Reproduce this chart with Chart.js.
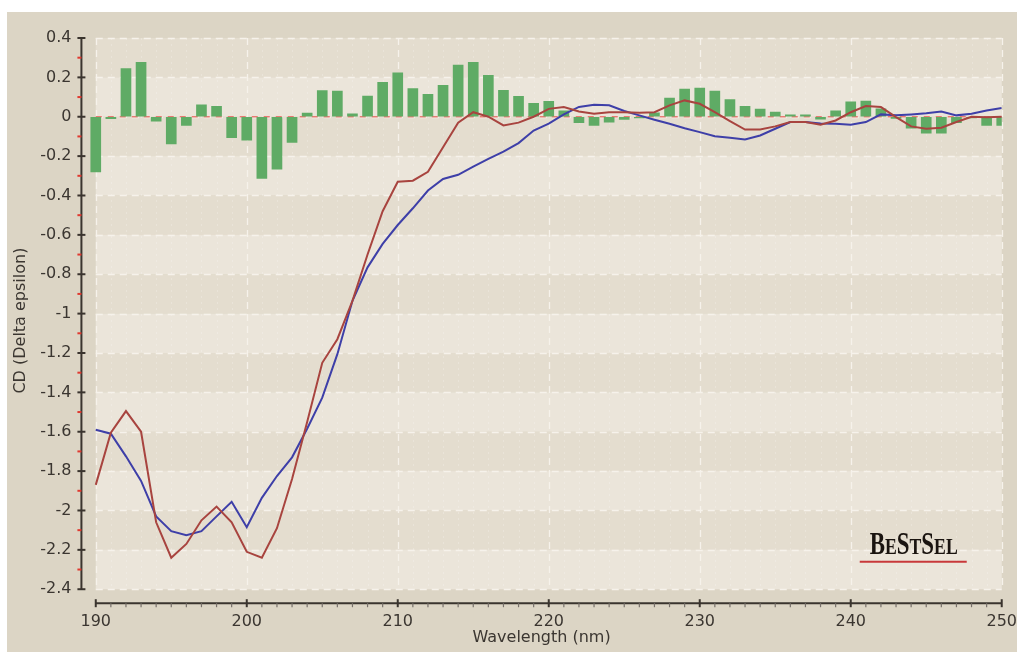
<!DOCTYPE html>
<html>
<head>
<meta charset="utf-8">
<title>CD spectrum</title>
<script src="https://cdn.jsdelivr.net/npm/chart.js@4.4.1/dist/chart.umd.min.js"></script>
<style>
  html, body { margin: 0; padding: 0; background: #ffffff; }
  #wrap { position: absolute; left: 7px; top: 12px; width: 1010px; height: 640px; background: #dcd5c5; }
</style>
</head>
<body>
<div id="wrap"><canvas id="cdChart"></canvas></div>
<script>
// wavelength (nm)
const wavelengths = [190, 191, 192, 193, 194, 195, 196, 197, 198, 199,
  200, 201, 202, 203, 204, 205, 206, 207, 208, 209,
  210, 211, 212, 213, 214, 215, 216, 217, 218, 219,
  220, 221, 222, 223, 224, 225, 226, 227, 228, 229,
  230, 231, 232, 233, 234, 235, 236, 237, 238, 239,
  240, 241, 242, 243, 244, 245, 246, 247, 248, 249, 250];

// measured spectrum (red)
const measured = [-1.87, -1.605, -1.495, -1.60, -2.06, -2.24, -2.17, -2.05, -1.98, -2.06,
  -2.21, -2.24, -2.09, -1.84, -1.55, -1.25, -1.13, -0.935, -0.70, -0.48,
  -0.33, -0.325, -0.28, -0.155, -0.03, 0.023, 0.0, -0.044, -0.03, 0.0,
  0.04, 0.049, 0.027, 0.015, 0.023, 0.023, 0.02, 0.023, 0.058, 0.083,
  0.066, 0.023, -0.022, -0.065, -0.065, -0.049, -0.027, -0.027, -0.04, -0.019,
  0.023, 0.054, 0.049, -0.002, -0.049, -0.061, -0.056, -0.027, 0.0, -0.002, 0.0];

// fitted spectrum (blue)
const fitted = [-1.59, -1.61, -1.725, -1.85, -2.03, -2.105, -2.126, -2.105, -2.03, -1.956,
  -2.085, -1.936, -1.825, -1.73, -1.585, -1.427, -1.206, -0.935, -0.765, -0.646,
  -0.55, -0.465, -0.375, -0.316, -0.295, -0.253, -0.214, -0.177, -0.134, -0.07,
  -0.035, 0.012, 0.05, 0.061, 0.058, 0.029, 0.007, -0.015, -0.036, -0.058,
  -0.078, -0.099, -0.107, -0.116, -0.095, -0.061, -0.027, -0.027, -0.034, -0.036,
  -0.041, -0.027, 0.012, 0.007, 0.012, 0.018, 0.027, 0.007, 0.015, 0.032, 0.044];

// residuals (green bars)
const residuals = [-0.28, -0.01, 0.245, 0.276, -0.022, -0.138, -0.044, 0.06, 0.053, -0.106,
  -0.119, -0.313, -0.266, -0.13, 0.019, 0.133, 0.13, 0.015, 0.105, 0.175,
  0.223, 0.143, 0.114, 0.16, 0.262, 0.277, 0.211, 0.134, 0.104, 0.068,
  0.078, 0.03, -0.03, -0.044, -0.027, -0.014, -0.006, 0.02, 0.095, 0.141,
  0.146, 0.131, 0.087, 0.053, 0.039, 0.024, 0.01, 0.01, -0.012, 0.03,
  0.076, 0.08, 0.04, -0.008, -0.058, -0.083, -0.083, -0.03, -0.006, -0.044, -0.044];

const xTicks = [190, 200, 210, 220, 230, 240, 250];
const yTicks = [0.4, 0.2, 0, -0.2, -0.4, -0.6, -0.8, -1, -1.2, -1.4, -1.6, -1.8, -2, -2.2, -2.4];

const pts = (ys) => wavelengths.map((w, i) => ({ x: w, y: ys[i] }));

Chart.defaults.font.family = "'DejaVu Sans', Verdana, sans-serif";
Chart.defaults.font.size = 16;
Chart.defaults.color = "#3b3631";

// bands, dashed grid, zero line, axes and logo
const plotDecor = {
  id: "plotDecor",
  beforeDatasetsDraw(chart) {
    const { ctx, scales: { x, y } } = chart;
    const left = x.getPixelForValue(190), right = x.getPixelForValue(250);
    const top = y.getPixelForValue(0.4), bottom = y.getPixelForValue(-2.4);
    ctx.save();
    for (let i = 0; i < yTicks.length - 1; i++) {
      const t = y.getPixelForValue(yTicks[i]), b = y.getPixelForValue(yTicks[i + 1]);
      ctx.fillStyle = i % 2 === 0 ? "#e4ddcf" : "#ebe5da";
      ctx.fillRect(left, t, right - left, b - t);
    }
    // faint minor verticals
    ctx.strokeStyle = "rgba(255,255,255,0.22)";
    ctx.lineWidth = 1;
    ctx.setLineDash([2, 4]);
    wavelengths.forEach((w) => {
      if (w % 10 === 0) return;
      const px = Math.round(x.getPixelForValue(w)) + 0.5;
      ctx.beginPath(); ctx.moveTo(px, top); ctx.lineTo(px, bottom); ctx.stroke();
    });
    // major dashed grid
    ctx.strokeStyle = "#f6f2eb";
    ctx.lineWidth = 1.3;
    ctx.setLineDash([7, 5]);
    yTicks.forEach((v) => {
      const py = Math.round(y.getPixelForValue(v)) + 0.5;
      ctx.beginPath(); ctx.moveTo(left, py); ctx.lineTo(right, py); ctx.stroke();
    });
    xTicks.forEach((v) => {
      const px = Math.round(x.getPixelForValue(v)) + 0.5;
      ctx.beginPath(); ctx.moveTo(px, top); ctx.lineTo(px, bottom); ctx.stroke();
    });
    // zero line
    ctx.strokeStyle = "#e87a72";
    ctx.lineWidth = 1.5;
    ctx.setLineDash([6, 6]);
    const z = y.getPixelForValue(0);
    ctx.beginPath(); ctx.moveTo(left, z); ctx.lineTo(right, z); ctx.stroke();
    ctx.restore();
  },
  afterDatasetsDraw(chart) {
    const { ctx, chartArea, scales: { x, y } } = chart;
    const axisX = chartArea.left, axisY = chartArea.bottom;
    ctx.save();
    ctx.setLineDash([]);
    ctx.strokeStyle = "#3a342e";
    ctx.lineWidth = 2;
    // y axis
    ctx.beginPath();
    ctx.moveTo(axisX, y.getPixelForValue(0.4));
    ctx.lineTo(axisX, y.getPixelForValue(-2.4));
    ctx.stroke();
    yTicks.forEach((v) => {
      const py = y.getPixelForValue(v);
      ctx.beginPath(); ctx.moveTo(axisX - 4, py); ctx.lineTo(axisX + 4, py); ctx.stroke();
    });
    ctx.strokeStyle = "#e03a30";
    for (let i = 0; i < yTicks.length - 1; i++) {
      const py = y.getPixelForValue((yTicks[i] + yTicks[i + 1]) / 2);
      ctx.beginPath(); ctx.moveTo(axisX - 4, py); ctx.lineTo(axisX, py); ctx.stroke();
    }
    // x axis
    ctx.strokeStyle = "#3a342e";
    ctx.beginPath();
    ctx.moveTo(x.getPixelForValue(190), axisY);
    ctx.lineTo(x.getPixelForValue(250), axisY);
    ctx.stroke();
    xTicks.forEach((v) => {
      const px = x.getPixelForValue(v);
      ctx.beginPath(); ctx.moveTo(px, axisY - 4); ctx.lineTo(px, axisY + 4); ctx.stroke();
    });
    ctx.strokeStyle = "#77706a";
    ctx.lineWidth = 1.2;
    wavelengths.forEach((w) => {
      if (w % 10 === 0) return;
      const px = x.getPixelForValue(w);
      ctx.beginPath(); ctx.moveTo(px, axisY); ctx.lineTo(px, axisY + 4); ctx.stroke();
    });

    // BeStSel logo, condensed to fit its box
    const parts = [["B", 31], ["E", 24], ["S", 31], ["T", 24], ["S", 31], ["E", 24], ["L", 24]];
    const fontOf = (size) => "bold " + size + "px 'Liberation Serif', 'DejaVu Serif', serif";
    let total = 0;
    parts.forEach(([ch, size]) => { ctx.font = fontOf(size); total += ctx.measureText(ch).width; });
    const boxW = 88;
    const sx = boxW / total;
    const right = x.getPixelForValue(250);
    const base = y.getPixelForValue(-2.22);
    ctx.translate(right - 132, base);
    ctx.scale(sx, 1);
    ctx.fillStyle = "#1a1410";
    ctx.textBaseline = "alphabetic";
    ctx.textAlign = "left";
    let lx = 0;
    parts.forEach(([ch, size]) => {
      ctx.font = fontOf(size);
      ctx.fillText(ch, lx, 0);
      lx += ctx.measureText(ch).width;
    });
    ctx.setTransform(1, 0, 0, 1, 0, 0);
    ctx.strokeStyle = "#c8383a";
    ctx.lineWidth = 2;
    ctx.beginPath();
    ctx.moveTo(right - 142, base + 8);
    ctx.lineTo(right - 35, base + 8);
    ctx.stroke();
    ctx.restore();
  }
};

new Chart(document.getElementById("cdChart"), {
  type: "bar",
  data: {
    datasets: [
      {
        type: "line",
        label: "Measured",
        data: pts(measured),
        borderColor: "#a8443f",
        borderWidth: 2,
        pointRadius: 0,
        tension: 0,
        fill: false
      },
      {
        type: "line",
        label: "Fitted",
        data: pts(fitted),
        borderColor: "#3e3fa8",
        borderWidth: 2,
        pointRadius: 0,
        tension: 0,
        fill: false
      },
      {
        type: "bar",
        label: "Residual",
        data: pts(residuals),
        backgroundColor: "#5fab65",
        barThickness: 10,
        borderWidth: 0
      }
    ]
  },
  options: {
    responsive: true,
    maintainAspectRatio: false,
    animation: false,
    layout: { padding: { left: 4, top: 26, right: 5, bottom: 6.6 } },
    plugins: { legend: { display: false }, tooltip: { enabled: false } },
    scales: {
      x: {
        type: "linear",
        offset: false,
        min: 189.05,
        max: 250,
        grid: { display: true, offset: false, drawOnChartArea: false, drawTicks: true, tickLength: 11.4, color: "rgba(0,0,0,0)" },
        border: { display: false },
        afterBuildTicks: (scale) => { scale.ticks = xTicks.map((v) => ({ value: v })); },
        ticks: { padding: 0, maxRotation: 0, autoSkip: false, font: { lineHeight: 0.9 }, callback: (v) => String(v) },
        title: { display: true, text: "Wavelength (nm)", font: { lineHeight: 0.9 }, padding: { top: 2, bottom: 0 } }
      },
      y: {
        type: "linear",
        min: -2.471,
        max: 0.4,
        grid: { display: true, drawOnChartArea: false, drawTicks: true, tickLength: 8, color: "rgba(0,0,0,0)" },
        border: { display: false },
        afterBuildTicks: (scale) => { scale.ticks = yTicks.map((v) => ({ value: v })); },
        ticks: { padding: 2, autoSkip: false, callback: (v) => String(+v.toFixed(1)) },
        title: { display: true, text: "CD (Delta epsilon)", padding: { top: 0, bottom: 8 } }
      }
    }
  },
  plugins: [plotDecor]
});
</script>
</body>
</html>
